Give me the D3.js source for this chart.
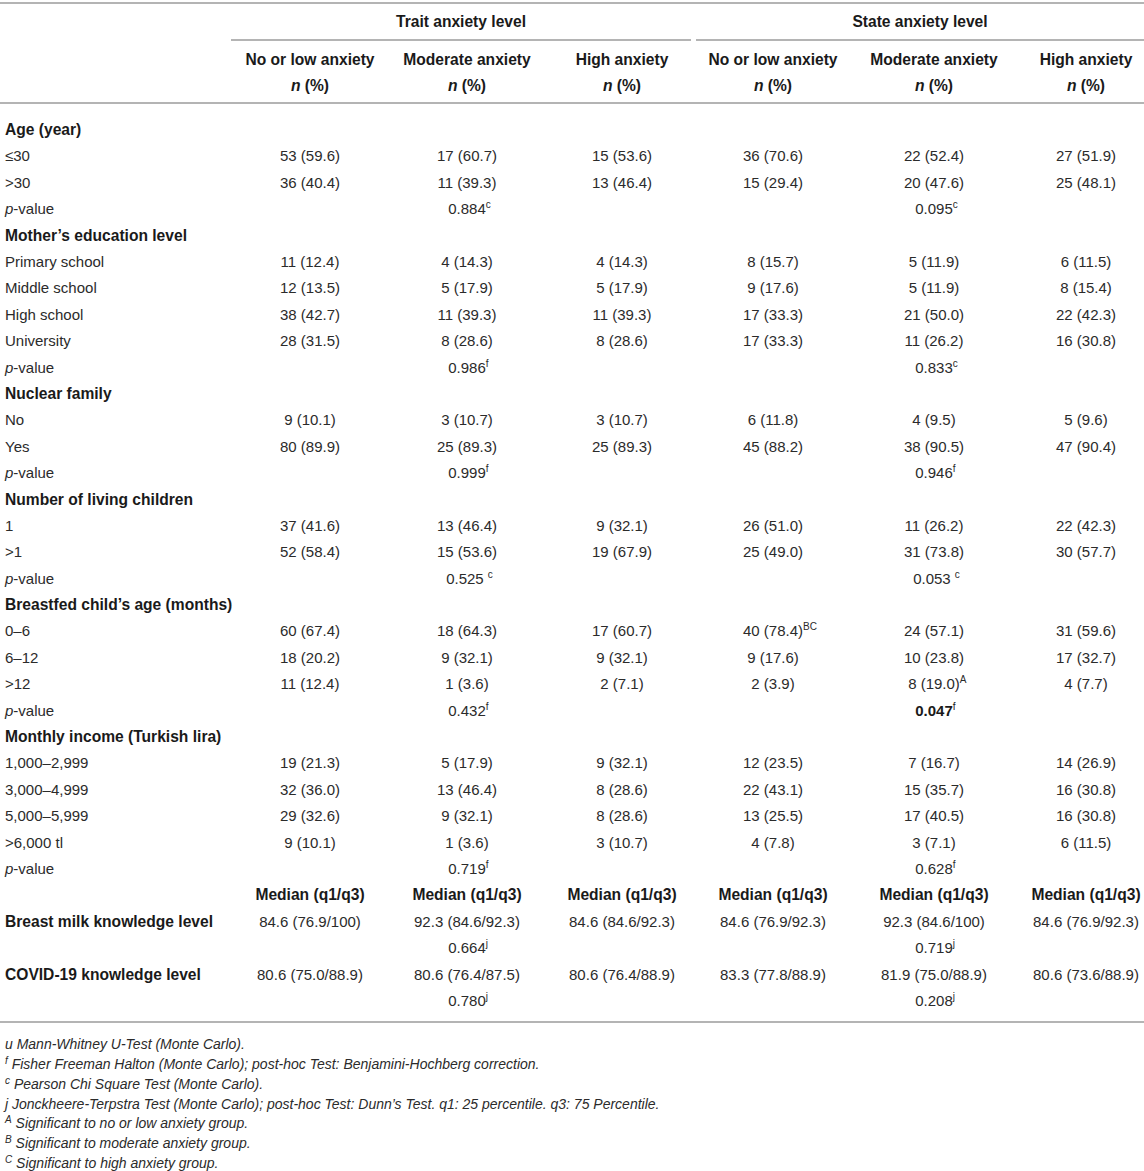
<!DOCTYPE html>
<html>
<head>
<meta charset="utf-8">
<script src="https://cdn.jsdelivr.net/npm/d3@7"></script>
<style>
  body { margin: 0; background: #fff; }
  text { font-family: 'Liberation Sans', Arial, sans-serif; }
</style>
</head>
<body>
<div id="table"></div>
<script>
// groups of the two anxiety scales
var groups = ['Trait anxiety level', 'State anxiety level']
var levels = ['No or low anxiety', 'Moderate anxiety', 'High anxiety']
var colKeys = ['t0', 't1', 't2', 's0', 's1', 's2']

// stub labels, one per body row; kind: h = bold heading, p = p-value row, m = median header
var rowLabels = [
  ['Age (year)', 'h'], ['≤30', ''], ['>30', ''], ['p-value', 'p'],
  ['Mother’s education level', 'h'], ['Primary school', ''], ['Middle school', ''], ['High school', ''], ['University', ''], ['p-value', 'p'],
  ['Nuclear family', 'h'], ['No', ''], ['Yes', ''], ['p-value', 'p'],
  ['Number of living children', 'h'], ['1', ''], ['>1', ''], ['p-value', 'p'],
  ['Breastfed child’s age (months)', 'h'], ['0–6', ''], ['6–12', ''], ['>12', ''], ['p-value', 'p'],
  ['Monthly income (Turkish lira)', 'h'], ['1,000–2,999', ''], ['3,000–4,999', ''], ['5,000–5,999', ''], ['>6,000 tl', ''], ['p-value', 'p'],
  ['', 'm'], ['Breast milk knowledge level', 'h'], ['', 'p'], ['COVID-19 knowledge level', 'h'], ['', 'p']
]

// cell values: [row index, t0, t1, t2, s0, s1, s2]; a cell may be [text, superscript]
var counts = [
  [1, '53 (59.6)', '17 (60.7)', '15 (53.6)', '36 (70.6)', '22 (52.4)', '27 (51.9)'],
  [2, '36 (40.4)', '11 (39.3)', '13 (46.4)', '15 (29.4)', '20 (47.6)', '25 (48.1)'],
  [5, '11 (12.4)', '4 (14.3)', '4 (14.3)', '8 (15.7)', '5 (11.9)', '6 (11.5)'],
  [6, '12 (13.5)', '5 (17.9)', '5 (17.9)', '9 (17.6)', '5 (11.9)', '8 (15.4)'],
  [7, '38 (42.7)', '11 (39.3)', '11 (39.3)', '17 (33.3)', '21 (50.0)', '22 (42.3)'],
  [8, '28 (31.5)', '8 (28.6)', '8 (28.6)', '17 (33.3)', '11 (26.2)', '16 (30.8)'],
  [11, '9 (10.1)', '3 (10.7)', '3 (10.7)', '6 (11.8)', '4 (9.5)', '5 (9.6)'],
  [12, '80 (89.9)', '25 (89.3)', '25 (89.3)', '45 (88.2)', '38 (90.5)', '47 (90.4)'],
  [15, '37 (41.6)', '13 (46.4)', '9 (32.1)', '26 (51.0)', '11 (26.2)', '22 (42.3)'],
  [16, '52 (58.4)', '15 (53.6)', '19 (67.9)', '25 (49.0)', '31 (73.8)', '30 (57.7)'],
  [19, '60 (67.4)', '18 (64.3)', '17 (60.7)', ['40 (78.4)', 'BC'], '24 (57.1)', '31 (59.6)'],
  [20, '18 (20.2)', '9 (32.1)', '9 (32.1)', '9 (17.6)', '10 (23.8)', '17 (32.7)'],
  [21, '11 (12.4)', '1 (3.6)', '2 (7.1)', '2 (3.9)', ['8 (19.0)', 'A'], '4 (7.7)'],
  [24, '19 (21.3)', '5 (17.9)', '9 (32.1)', '12 (23.5)', '7 (16.7)', '14 (26.9)'],
  [25, '32 (36.0)', '13 (46.4)', '8 (28.6)', '22 (43.1)', '15 (35.7)', '16 (30.8)'],
  [26, '29 (32.6)', '9 (32.1)', '8 (28.6)', '13 (25.5)', '17 (40.5)', '16 (30.8)'],
  [27, '9 (10.1)', '1 (3.6)', '3 (10.7)', '4 (7.8)', '3 (7.1)', '6 (11.5)'],
  [30, '84.6 (76.9/100)', '92.3 (84.6/92.3)', '84.6 (84.6/92.3)', '84.6 (76.9/92.3)', '92.3 (84.6/100)', '84.6 (76.9/92.3)'],
  [32, '80.6 (75.0/88.9)', '80.6 (76.4/87.5)', '80.6 (76.4/88.9)', '83.3 (77.8/88.9)', '81.9 (75.0/88.9)', '80.6 (73.6/88.9)']
]

// p-values sit under the moderate columns: [row, trait, traitSup, state, stateSup, stateBold]
var pValues = [
  [3, '0.884', 'c', '0.095', 'c', false],
  [9, '0.986', 'f', '0.833', 'c', false],
  [13, '0.999', 'f', '0.946', 'f', false],
  [17, '0.525 ', 'c', '0.053 ', 'c', false],
  [22, '0.432', 'f', '0.047', 'f', true],
  [28, '0.719', 'f', '0.628', 'f', false],
  [31, '0.664', 'j', '0.719', 'j', false],
  [33, '0.780', 'j', '0.208', 'j', false]
]

// footnotes: [superscript marker, plain lead, text]
var footnotes = [
  ['', 'u ', 'Mann-Whitney U-Test (Monte Carlo).'],
  ['f', '', 'Fisher Freeman Halton (Monte Carlo); post-hoc Test: Benjamini-Hochberg correction.'],
  ['c', '', 'Pearson Chi Square Test (Monte Carlo).'],
  ['', 'j ', 'Jonckheere-Terpstra Test (Monte Carlo); post-hoc Test: Dunn’s Test. q1: 25 percentile. q3: 75 Percentile.'],
  ['A', '', 'Significant to no or low anxiety group.'],
  ['B', '', 'Significant to moderate anxiety group.'],
  ['C', '', 'Significant to high anxiety group.']
]

var width = 1144
var height = 1171
var ink = '#2b2b2b'
var bold = '#1a1a1a'
var rule = '#b4b4b4'
var boldSize = 15.6

var svg = d3
  .select('#table')
  .append('svg')
  .attr('width', width)
  .attr('height', height)

// scales
var colScale = d3
  .scaleOrdinal()
  .domain(colKeys)
  .range([310, 467, 622, 773, 934, 1086])

var rowScale = d3
  .scaleLinear()
  .domain([0, rowLabels.length - 1])
  .range([130, 1001])

var groupScale = d3
  .scaleOrdinal()
  .domain(groups)
  .range([[231, 691], [696, 1144]])

var noteScale = d3
  .scaleLinear()
  .domain([0, footnotes.length - 1])
  .range([1044, 1163])

// rules
function hline(x1, x2, y) {
  svg.append('line')
    .attr('x1', x1).attr('x2', x2)
    .attr('y1', y).attr('y2', y)
    .attr('stroke', rule)
    .attr('stroke-width', 2)
}
hline(0, width, 3)
groups.forEach(g => hline(groupScale(g)[0], groupScale(g)[1], 40))
hline(0, width, 103)
hline(0, width, 1022)

// group headers
svg.selectAll('.group')
  .data(groups)
  .enter()
  .append('text')
  .attr('class', 'group')
  .attr('x', d => (groupScale(d)[0] + groupScale(d)[1]) / 2)
  .attr('y', 27)
  .attr('text-anchor', 'middle')
  .attr('font-size', boldSize)
  .attr('font-weight', 'bold')
  .attr('fill', bold)
  .text(d => d)

// level headers
var levelHead = svg.selectAll('.level')
  .data(colKeys)
  .enter()
  .append('g')
  .attr('class', 'level')

levelHead.append('text')
  .attr('x', d => colScale(d))
  .attr('y', 65)
  .attr('text-anchor', 'middle')
  .attr('font-size', boldSize)
  .attr('font-weight', 'bold')
  .attr('fill', bold)
  .text((d, i) => levels[i % 3])

var npct = levelHead.append('text')
  .attr('x', d => colScale(d))
  .attr('y', 91)
  .attr('text-anchor', 'middle')
  .attr('font-size', boldSize)
  .attr('font-weight', 'bold')
  .attr('fill', bold)
npct.append('tspan').attr('font-style', 'italic').text('n')
npct.append('tspan').text(' (%)')

// stub column
var stub = svg.selectAll('.stub')
  .data(rowLabels)
  .enter()
  .append('text')
  .attr('class', 'stub')
  .attr('x', 5)
  .attr('y', (d, i) => rowScale(i) + 5)
  .attr('font-size', d => d[1] === 'h' ? boldSize : 15)
  .attr('font-weight', d => d[1] === 'h' ? 'bold' : 'normal')
  .attr('fill', d => d[1] === 'h' ? bold : ink)

stub.each(function(d) {
  var t = d3.select(this)
  if (d[1] === 'p' && d[0]) {
    t.append('tspan').attr('font-style', 'italic').text('p')
    t.append('tspan').text('-value')
  } else {
    t.text(d[0])
  }
})

// median header row
var medianRow = rowLabels.findIndex(d => d[1] === 'm')
svg.selectAll('.median')
  .data(colKeys)
  .enter()
  .append('text')
  .attr('class', 'median')
  .attr('x', d => colScale(d))
  .attr('y', rowScale(medianRow) + 5)
  .attr('text-anchor', 'middle')
  .attr('font-size', boldSize)
  .attr('font-weight', 'bold')
  .attr('fill', bold)
  .text('Median (q1/q3)')

// body cells
var cells = []
counts.forEach(r => {
  colKeys.forEach((k, i) => {
    var v = r[i + 1]
    cells.push({ row: r[0], col: k, text: Array.isArray(v) ? v[0] : v, sup: Array.isArray(v) ? v[1] : '' })
  })
})
pValues.forEach(r => {
  cells.push({ row: r[0], col: 't1', text: r[1], sup: r[2], strong: false })
  cells.push({ row: r[0], col: 's1', text: r[3], sup: r[4], strong: r[5] })
})

function writeCell(sel) {
  sel.each(function(d) {
    var t = d3.select(this)
    t.append('tspan').text(d.text)
    if (d.sup) {
      t.append('tspan')
        .attr('font-size', 10)
        .attr('dy', -6)
        .attr('font-weight', 'normal')
        .text(d.sup)
    }
  })
}

var cellText = svg.selectAll('.cell')
  .data(cells)
  .enter()
  .append('text')
  .attr('class', 'cell')
  .attr('y', d => rowScale(d.row) + 5)
  .attr('font-size', 15)
  .attr('font-weight', d => d.strong ? 'bold' : 'normal')
  .attr('fill', d => d.strong ? bold : ink)
  .call(writeCell)

// centre the main text on the column (superscripts hang to the right)
cellText.attr('x', function(d) {
  var main = this.firstChild.getComputedTextLength()
  return colScale(d.col) - main / 2
})

// footnotes
var notes = svg.selectAll('.note')
  .data(footnotes)
  .enter()
  .append('text')
  .attr('class', 'note')
  .attr('x', 5)
  .attr('y', (d, i) => noteScale(i) + 5)
  .attr('font-size', 14)
  .attr('font-style', 'italic')
  .attr('fill', ink)

notes.each(function(d) {
  var t = d3.select(this)
  if (d[0]) {
    t.append('tspan').attr('font-size', 10).attr('dy', -5).text(d[0])
    t.append('tspan').attr('dy', 5).text(' ' + d[2])
  } else {
    t.append('tspan').text(d[1] + d[2])
  }
})
</script>
</body>
</html>
